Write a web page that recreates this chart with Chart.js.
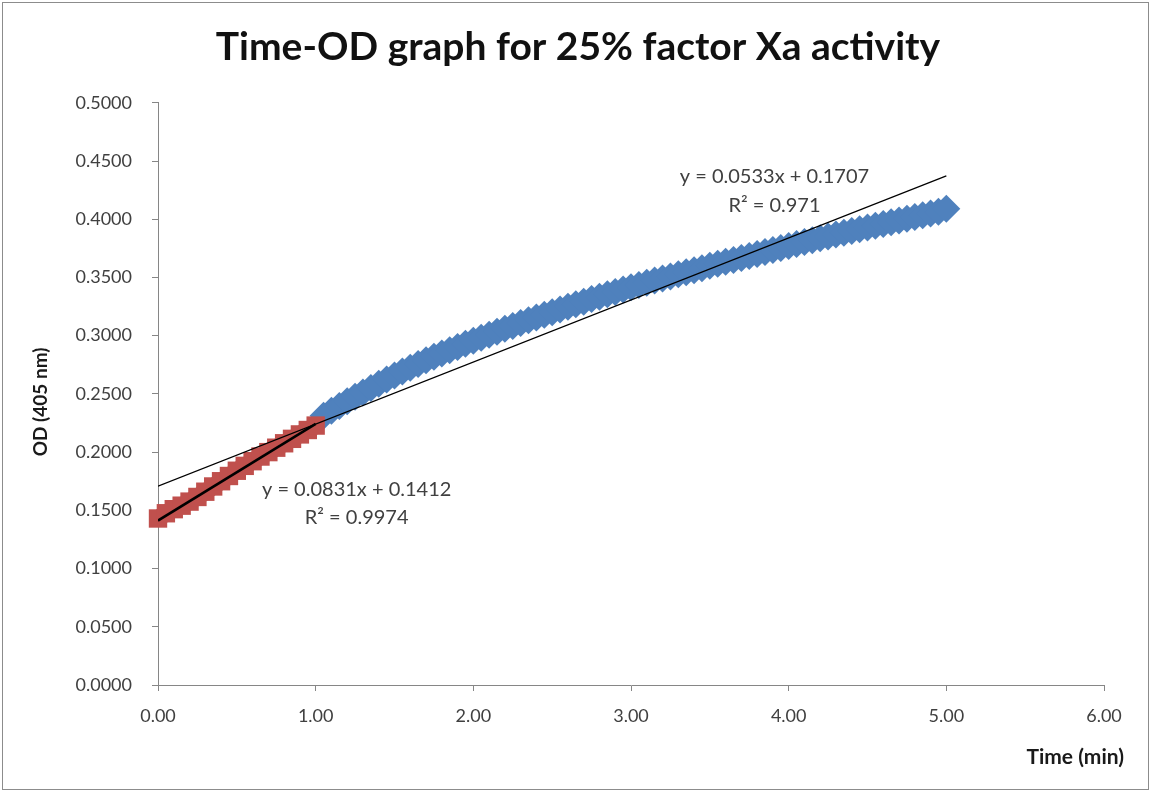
<!DOCTYPE html>
<html>
<head>
<meta charset="utf-8">
<title>Time-OD graph for 25% factor Xa activity</title>
<script src="https://cdn.jsdelivr.net/npm/chart.js@4.4.1/dist/chart.umd.min.js"></script>
<style>
  html, body { margin: 0; padding: 0; background: #fff; }
  #wrap { width: 1151px; height: 793px; position: relative; }
</style>
</head>
<body>
<div id="wrap"><canvas id="chartCanvas"></canvas></div>
<script>
// time (min) and OD for the first minute (red squares)
const redTime = [0.00, 0.05, 0.10, 0.15, 0.20, 0.25, 0.30, 0.35, 0.40, 0.45, 0.50,
                 0.55, 0.60, 0.65, 0.70, 0.75, 0.80, 0.85, 0.90, 0.95, 1.00];
const redOD = [0.1430, 0.1475, 0.1510, 0.1540, 0.1575, 0.1615, 0.1660, 0.1705, 0.1750, 0.1795, 0.1840,
               0.1882, 0.1922, 0.1962, 0.2000, 0.2038, 0.2076, 0.2114, 0.2152, 0.2190, 0.2228];

// time (min) and OD after the first minute (blue diamonds)
const blueTime = [1.05, 1.10, 1.15, 1.20, 1.25, 1.30, 1.35, 1.40, 1.45, 1.50,
                  1.55, 1.60, 1.65, 1.70, 1.75, 1.80, 1.85, 1.90, 1.95, 2.00,
                  2.05, 2.10, 2.15, 2.20, 2.25, 2.30, 2.35, 2.40, 2.45, 2.50,
                  2.55, 2.60, 2.65, 2.70, 2.75, 2.80, 2.85, 2.90, 2.95, 3.00,
                  3.05, 3.10, 3.15, 3.20, 3.25, 3.30, 3.35, 3.40, 3.45, 3.50,
                  3.55, 3.60, 3.65, 3.70, 3.75, 3.80, 3.85, 3.90, 3.95, 4.00,
                  4.05, 4.10, 4.15, 4.20, 4.25, 4.30, 4.35, 4.40, 4.45, 4.50,
                  4.55, 4.60, 4.65, 4.70, 4.75, 4.80, 4.85, 4.90, 4.95, 5.00];
const blueOD = [0.2313, 0.2355, 0.2396, 0.2436, 0.2475, 0.2513, 0.2550, 0.2587, 0.2623, 0.2658,
                0.2692, 0.2725, 0.2757, 0.2788, 0.2818, 0.2847, 0.2875, 0.2903, 0.2930, 0.2957,
                0.2983, 0.3009, 0.3034, 0.3059, 0.3084, 0.3108, 0.3132, 0.3156, 0.3179, 0.3202,
                0.3225, 0.3248, 0.3270, 0.3292, 0.3314, 0.3335, 0.3356, 0.3376, 0.3396, 0.3416,
                0.3435, 0.3454, 0.3473, 0.3491, 0.3509, 0.3527, 0.3545, 0.3562, 0.3579, 0.3600,
                0.3617, 0.3634, 0.3651, 0.3668, 0.3685, 0.3702, 0.3719, 0.3736, 0.3753, 0.3770,
                0.3787, 0.3804, 0.3820, 0.3836, 0.3852, 0.3868, 0.3884, 0.3899, 0.3914, 0.3929,
                0.3944, 0.3959, 0.3974, 0.3989, 0.4004, 0.4019, 0.4034, 0.4049, 0.4064, 0.4090];

// trendline equations as printed on the chart
const redFit = { slope: 0.0831, intercept: 0.1412, r2: "0.9974" };
const blueFit = { slope: 0.0533, intercept: 0.1707, r2: "0.971" };

const yTicks = { min: 0, max: 0.5, step: 0.05 };
const xTicks = { min: 0, max: 6, step: 1 };

const FONT = "Lato, 'Open Sans', sans-serif";

function toPoints(xs, ys) {
    return xs.map((x, i) => ({ x: x, y: ys[i] }));
}

function fitLine(fit, x0, x1) {
    return [
        { x: x0, y: fit.slope * x0 + fit.intercept },
        { x: x1, y: fit.slope * x1 + fit.intercept }
    ];
}

// frame, equations and the two axis titles
const extras = {
    id: "extras",
    beforeDraw(chart) {
        const ctx = chart.ctx;
        ctx.save();
        ctx.strokeStyle = "#8c8c8c";
        ctx.lineWidth = 1;
        ctx.strokeRect(2.5, 2.5, chart.width - 5, chart.height - 6);
        ctx.restore();
    },
    afterDraw(chart) {
        const ctx = chart.ctx;
        const xs = chart.scales.x, ys = chart.scales.y;
        const area = chart.chartArea;
        ctx.save();
        ctx.fillStyle = "#404040";
        ctx.font = "20px " + FONT;
        ctx.textAlign = "center";
        ctx.textBaseline = "middle";

        let px = xs.getPixelForValue(1.26), py = ys.getPixelForValue(0.1675);
        ctx.fillText("y = " + redFit.slope.toFixed(4) + "x + " + redFit.intercept.toFixed(4), px, py);
        ctx.fillText("R² = " + redFit.r2, px, py + 28);

        px = xs.getPixelForValue(3.91); py = ys.getPixelForValue(0.4364);
        ctx.fillText("y = " + blueFit.slope.toFixed(4) + "x + " + blueFit.intercept.toFixed(4), px, py);
        ctx.fillText("R² = " + blueFit.r2, px, py + 29);

        ctx.fillStyle = "#1a1a1a";
        ctx.font = "bold 21px " + FONT;
        ctx.textAlign = "right";
        ctx.fillText("Time (min)", area.right + 20, area.bottom + 72);

        ctx.font = "bold 19px " + FONT;
        ctx.textAlign = "center";
        ctx.translate(41, (area.top + area.bottom) / 2 + 8);
        ctx.rotate(-Math.PI / 2);
        ctx.fillText("OD (405 nm)", 0, 0);
        ctx.restore();
    }
};

const chartCanvas = document.getElementById("chartCanvas");

new Chart(chartCanvas, {
    type: "scatter",
    data: {
        datasets: [
            {
                label: "Linear (first minute)",
                data: fitLine(redFit, redTime[0], redTime[redTime.length - 1]),
                showLine: true,
                borderColor: "#000000",
                borderWidth: 2.5,
                pointRadius: 0
            },
            {
                label: "Linear (after first minute)",
                data: fitLine(blueFit, redTime[0], blueTime[blueTime.length - 1]),
                showLine: true,
                borderColor: "#000000",
                borderWidth: 1.2,
                pointRadius: 0
            },
            {
                label: "0-1 min",
                data: toPoints(redTime, redOD),
                showLine: true,
                borderColor: "#C0504D",
                borderWidth: 17,
                backgroundColor: "#C0504D",
                pointStyle: "rect",
                pointRadius: 13,
                pointBorderWidth: 0,
                clip: false
            },
            {
                label: "1-5 min",
                data: toPoints(blueTime, blueOD),
                showLine: true,
                borderColor: "#4F81BD",
                borderWidth: 17,
                backgroundColor: "#4F81BD",
                pointStyle: "rectRot",
                pointRadius: 14,
                pointBorderWidth: 0,
                clip: false
            }
        ]
    },
    options: {
        responsive: true,
        maintainAspectRatio: false,
        animation: false,
        layout: { padding: { left: 52, right: 47, top: 0, bottom: 0 } },
        plugins: {
            legend: { display: false },
            tooltip: { enabled: false },
            title: {
                display: true,
                text: "Time-OD graph for 25% factor Xa activity",
                color: "#111111",
                font: { family: FONT, size: 39, weight: "bold" },
                padding: { top: 24, bottom: 32 }
            }
        },
        scales: {
            x: {
                type: "linear",
                min: xTicks.min,
                max: xTicks.max,
                afterFit: (scale) => { scale.height = 108; },
                ticks: {
                    stepSize: xTicks.step,
                    callback: (v) => v.toFixed(2),
                    color: "#404040",
                    font: { family: FONT, size: 18 },
                    padding: 14,
                    maxRotation: 0
                },
                grid: { drawOnChartArea: false, drawTicks: true, tickLength: 6, color: "#868686" },
                border: { display: true, color: "#868686", width: 1 }
            },
            y: {
                type: "linear",
                min: yTicks.min,
                max: yTicks.max,
                afterFit: (scale) => { scale.width = 106; },
                ticks: {
                    stepSize: yTicks.step,
                    callback: (v) => v.toFixed(4),
                    color: "#404040",
                    font: { family: FONT, size: 18 },
                    padding: 20
                },
                grid: { drawOnChartArea: false, drawTicks: true, tickLength: 6, color: "#868686" },
                border: { display: true, color: "#868686", width: 1 }
            }
        }
    },
    plugins: [extras]
});
</script>
</body>
</html>
